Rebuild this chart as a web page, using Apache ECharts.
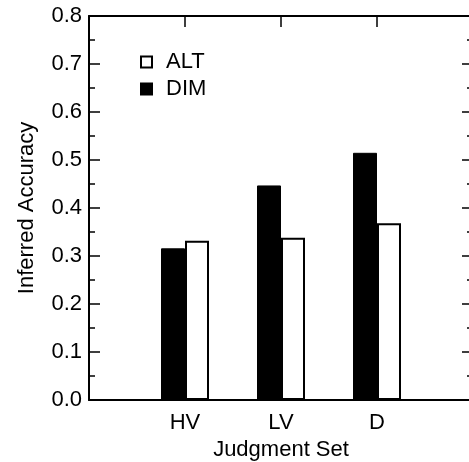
<!DOCTYPE html>
<html>
<head>
<meta charset="utf-8">
<script src="https://cdn.jsdelivr.net/npm/echarts@6/dist/echarts.min.js"></script>
<style>html,body{margin:0;padding:0;background:#fff;}#c{width:469px;height:462px;}</style>
</head>
<body>
<div id="c"></div>
<script>
const categories = ['HV', 'LV', 'D'];
const dimValues = [0.316, 0.447, 0.515];
const altValues = [0.332, 0.338, 0.368];
const yTicks = [0, 0.1, 0.2, 0.3, 0.4, 0.5, 0.6, 0.7, 0.8];

const FONT = '"Liberation Sans", Arial, sans-serif';
const INK = '#000';
const FS = 22;
const toPts = vals => vals.map((v, i) => [i + 1, v]);

const chart = echarts.init(document.getElementById('c'), null, {renderer: 'canvas'});
function yAxisOf(pos, extra) {
  return Object.assign({
    type: 'value', position: pos, min: yTicks[0], max: yTicks[yTicks.length - 1], interval: 0.1,
    axisLine: {show: true, onZero: false, lineStyle: {color: INK, width: 2}},
    axisTick: {show: true, inside: true, length: 11, lineStyle: {color: INK, width: 1.5}},
    minorTick: {show: true, splitNumber: 2, length: 6, lineStyle: {color: INK, width: 1.5}},
    splitLine: {show: false}
  }, extra);
}
function xAxisOf(pos, extra) {
  return Object.assign({
    type: 'value', position: pos, min: 0, max: categories.length + 1, interval: 1,
    axisLine: {show: true, onZero: false, lineStyle: {color: INK, width: 2}},
    axisTick: {show: true, inside: true, length: 11, lineStyle: {color: INK, width: 1.5}},
    splitLine: {show: false}
  }, extra);
}
chart.setOption({
  animation: false,
  backgroundColor: '#fff',
  textStyle: {fontFamily: FONT, color: INK},
  grid: {left: 89, top: 16, width: 384, height: 384, containLabel: false, outerBoundsMode: 'none'},
  legend: {
    orient: 'vertical', left: 140, top: 51, padding: 0, itemWidth: 11, itemHeight: 11, itemGap: 5,
    icon: 'rect',
    data: ['ALT', 'DIM'],
    textStyle: {fontFamily: FONT, fontSize: FS, color: INK, padding: [0, 0, 0, 9]}
  },
  xAxis: [
    xAxisOf('bottom', {
      name: 'Judgment Set', nameLocation: 'middle', nameGap: 38,
      nameTextStyle: {fontFamily: FONT, fontSize: FS, color: INK},
      axisLabel: {
        show: true, margin: 12, fontFamily: FONT, fontSize: FS, color: INK,
        formatter: v => (v >= 1 && v <= categories.length ? categories[v - 1] : '')
      }
    }),
    xAxisOf('top', {axisLabel: {show: false}})
  ],
  yAxis: [
    yAxisOf('left', {
      name: 'Inferred Accuracy', nameLocation: 'middle', nameGap: 51, nameRotate: 90,
      nameTextStyle: {fontFamily: FONT, fontSize: FS, color: INK},
      axisLabel: {show: true, margin: 7, fontFamily: FONT, fontSize: FS, color: INK,
        formatter: v => v.toFixed(1)}
    }),
    yAxisOf('right', {axisLabel: {show: false}})
  ],
  series: [
    {
      name: 'DIM', type: 'bar', xAxisIndex: 0, yAxisIndex: 0,
      data: toPts(dimValues), barWidth: 24, barGap: '0%',
      itemStyle: {color: '#000', borderColor: '#000', borderWidth: 1}
    },
    {
      name: 'ALT', type: 'bar', xAxisIndex: 0, yAxisIndex: 0,
      data: toPts(altValues), barWidth: 24, barGap: '0%',
      itemStyle: {color: '#fff', borderColor: '#000', borderWidth: 2}
    }
  ]
});
</script>
</body>
</html>
